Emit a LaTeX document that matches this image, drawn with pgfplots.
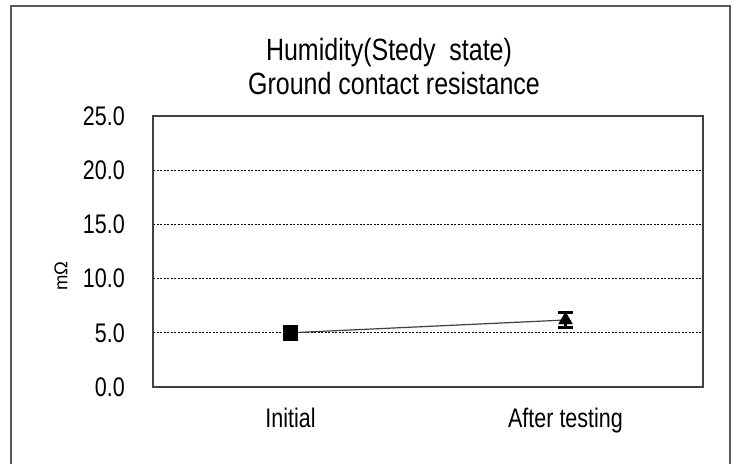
\documentclass[border=0pt]{standalone}
\usepackage{pgfplots}
\pgfplotsset{compat=1.18}
\usepackage{fontspec}
\setmainfont{Liberation Sans}
\begin{document}
\begin{tikzpicture}[x=1bp,y=1bp]
\clip (0,0) rectangle (737,464);
\fill[white] (0,0) rectangle (737,464);
\draw[color=black!65, line width=1.5bp] (11,-10) rectangle (730,458);
\begin{axis}[
  at={(153bp,77bp)}, anchor=south west,
  scale only axis, width=550bp, height=271bp,
  xmin=-0.5, xmax=1.5, ymin=0, ymax=25,
  xtick={0,1}, ytick={0,5,10,15,20,25},
  xticklabels={\scalebox{1}[1.25]{Initial},\scalebox{1}[1.25]{After testing}},
  yticklabel={\scalebox{1}[1.25]{\pgfmathprintnumber[fixed,fixed zerofill,precision=1,assume math mode=true]{\tick}}},
  /pgf/number format/assume math mode=true,
  major tick length=0pt,
  tick label style={font=\fontsize{21.5bp}{26bp}\selectfont, inner sep=0pt},
  yticklabel style={anchor=east, xshift=-28bp},
  xticklabel style={anchor=north, yshift=-21bp},
  axis line style={draw=black!75, line width=1.3bp},
  ymajorgrids,
  grid style={black, line width=0.8bp, dash pattern=on 2bp off 1.5bp},
  clip=false,
]
\addplot[draw=black!75, line width=1.2bp, no marks] coordinates {(0,5.0) (1,6.18)};
\addplot[only marks, black, mark=square*, mark size=7bp,
  error bars/.cd, y dir=both, y explicit,
  error bar style={line width=2.5bp, black},
  error mark options={rotate=90, mark size=7.5bp, line width=2.5bp, black}]
  coordinates {(0,5.0) +- (0,0.6)};
\addplot[only marks, black, mark=triangle*, mark size=8bp,
  error bars/.cd, y dir=both, y explicit,
  error bar style={line width=2.5bp, black},
  error mark options={rotate=90, mark size=7.5bp, line width=3bp, black}]
  coordinates {(1,6.18) +- (0,0.69)};
\end{axis}
\node[anchor=base] at (389,403) {\fontsize{25bp}{30bp}\selectfont\scalebox{1}[1.23]{Humidity(Stedy\ \ state)}};
\node[anchor=base] at (394,369) {\fontsize{25bp}{30bp}\selectfont\scalebox{1}[1.23]{Ground contact resistance}};
\node[rotate=90] at (61,188) {\fontsize{18.5bp}{20bp}\selectfont mΩ};
\end{tikzpicture}
\end{document}
